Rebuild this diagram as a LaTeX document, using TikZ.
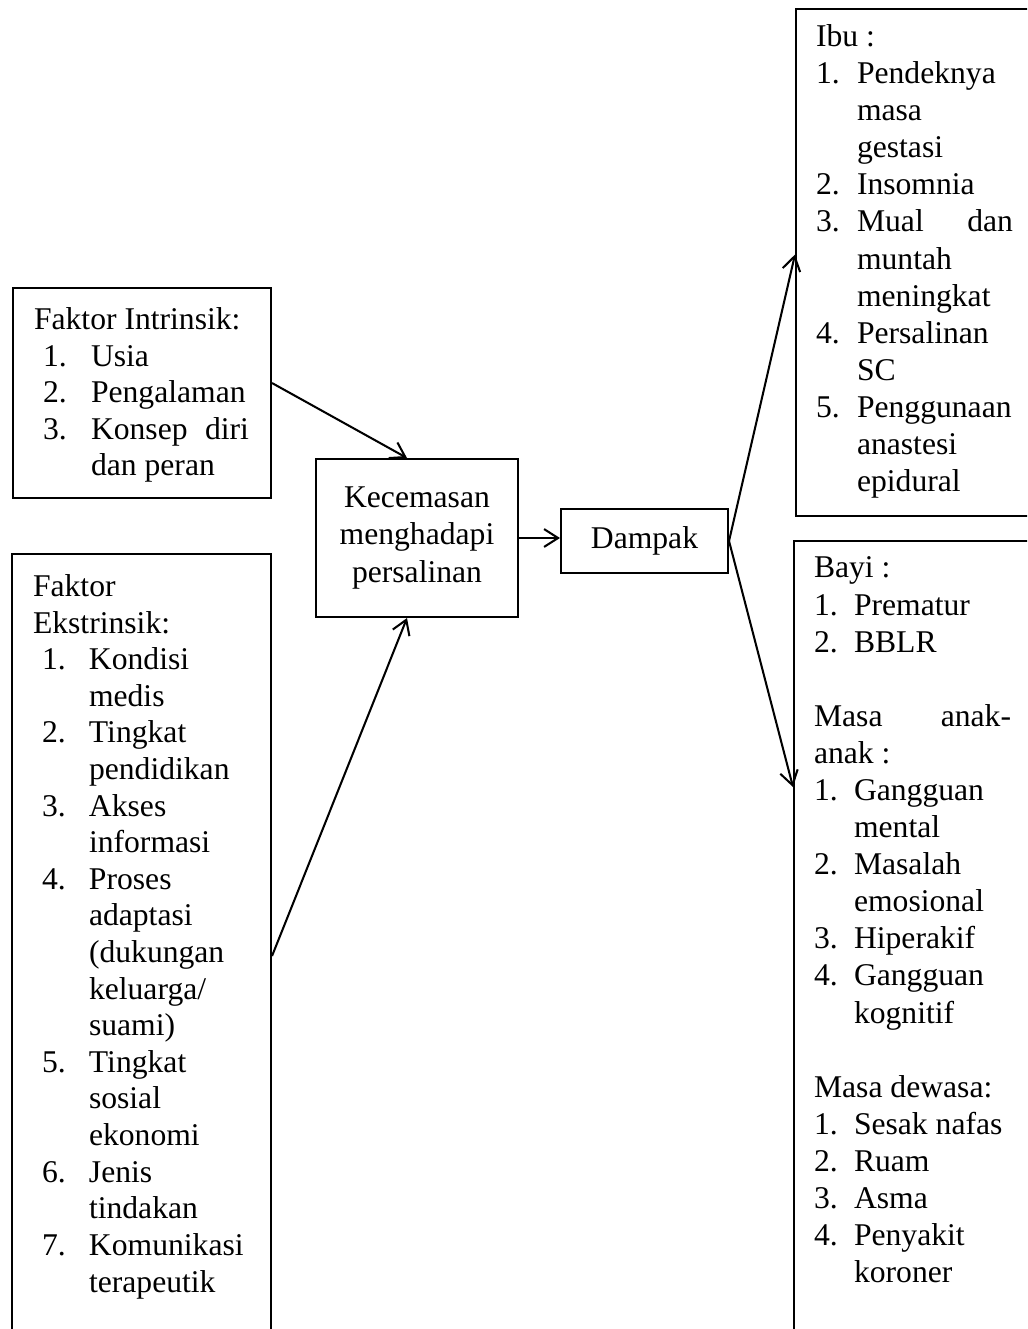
\documentclass[tikz,border=0pt]{standalone}
\usepackage{fontspec}
\setmainfont{Liberation Serif}
\usepackage{tikz}
\usetikzlibrary{arrows.meta}

\newlength{\pix}
\setlength{\pix}{0.392pt}
\newlength{\lead}
\newlength{\numw}
\newcommand{\nitem}[1]{\hspace*{\lead}\makebox[\numw][l]{#1}}
\newcommand{\cont}{\hspace*{\dimexpr\lead+\numw\relax}}

\tikzset{
	box/.style={draw, line width=0.8pt, anchor=north west, inner xsep=21\pix, align=left},
	midbox/.style={draw, line width=0.8pt, align=center, inner sep=0pt},
	arr/.style={-{Straight Barb[length=5.5pt, width=7pt]}, line width=0.8pt}
}

\begin{document}
\begin{tikzpicture}[x=\pix, y=-\pix, font=\fontsize{12.4}{14.54}\selectfont]

	\useasboundingbox (0,0) rectangle (1027,1329);
	\clip (0,0) rectangle (1027,1329);

	% faktor
	\node[box, inner ysep=19.5\pix] (intr) at (12,287) {\parbox[t][171\pix][t]{216\pix}{%
		\fontsize{12.4}{14.35}\selectfont
		\setlength{\lead}{9\pix}\setlength{\numw}{48\pix}%
		Faktor Intrinsik:\\
		\nitem{1.}Usia\\
		\nitem{2.}Pengalaman\\
		\nitem{3.}\makebox[158\pix][s]{Konsep diri}\\
		\cont dan peran}};

	\node[box, inner ysep=20.5\pix] (ekst) at (11,553) {\parbox[t][800\pix][t]{217\pix}{%
		\fontsize{12.4}{14.35}\selectfont
		\setlength{\lead}{9\pix}\setlength{\numw}{47\pix}%
		Faktor\\
		Ekstrinsik:\\
		\nitem{1.}Kondisi\\
		\cont medis\\
		\nitem{2.}Tingkat\\
		\cont pendidikan\\
		\nitem{3.}Akses\\
		\cont informasi\\
		\nitem{4.}Proses\\
		\cont adaptasi\\
		\cont (dukungan\\
		\cont keluarga/\\
		\cont suami)\\
		\nitem{5.}Tingkat\\
		\cont sosial\\
		\cont ekonomi\\
		\nitem{6.}Jenis\\
		\cont tindakan\\
		\nitem{7.}Komunikasi\\
		\cont terapeutik}};

	\node[midbox, minimum width=202*\pix, minimum height=158*\pix] (kec) at (417,538) {Kecemasan\\menghadapi\\persalinan};
	\node[midbox, minimum width=167*\pix, minimum height=64*\pix] (damp) at (644.5,541) {Dampak};

	% dampak
	\node[box, inner xsep=20\pix, inner ysep=15.5\pix] (ibu) at (795,8) {\parbox[t][476\pix][t]{230\pix}{%
		\setlength{\lead}{0pt}\setlength{\numw}{41\pix}%
		Ibu :\\
		\nitem{1.}Pendeknya\\
		\cont masa\\
		\cont gestasi\\
		\nitem{2.}Insomnia\\
		\nitem{3.}\makebox[156\pix][s]{Mual dan}\\
		\cont muntah\\
		\cont meningkat\\
		\nitem{4.}Persalinan\\
		\cont SC\\
		\nitem{5.}Penggunaan\\
		\cont anastesi\\
		\cont epidural}};

	\node[box, inner xsep=20\pix, inner ysep=16\pix] (bayi) at (793,540) {\parbox[t][800\pix][t]{230\pix}{%
		\setlength{\lead}{0pt}\setlength{\numw}{40\pix}%
		Bayi :\\
		\nitem{1.}Prematur\\
		\nitem{2.}BBLR\\
		\mbox{}\\
		\makebox[197\pix][s]{Masa anak-}\\
		anak :\\
		\nitem{1.}Gangguan\\
		\cont mental\\
		\nitem{2.}Masalah\\
		\cont emosional\\
		\nitem{3.}Hiperakif\\
		\nitem{4.}Gangguan\\
		\cont kognitif\\
		\mbox{}\\
		Masa dewasa:\\
		\nitem{1.}Sesak nafas\\
		\nitem{2.}Ruam\\
		\nitem{3.}Asma\\
		\nitem{4.}Penyakit\\
		\cont koroner}};

	\draw[arr] ([yshift=10*\pix]intr.east) -- ([xshift=-10*\pix]kec.north);
	\draw[arr] ([yshift=-403*\pix]ekst.north east) -- ([xshift=-10*\pix]kec.south);
	\draw[arr] (kec.east) -- (kec.east -| damp.west);
	\draw[arr] (damp.east) -- ([yshift=8*\pix]ibu.west);
	\draw[arr] (damp.east) -- ([yshift=-247*\pix]bayi.north west);

\end{tikzpicture}
\end{document}
